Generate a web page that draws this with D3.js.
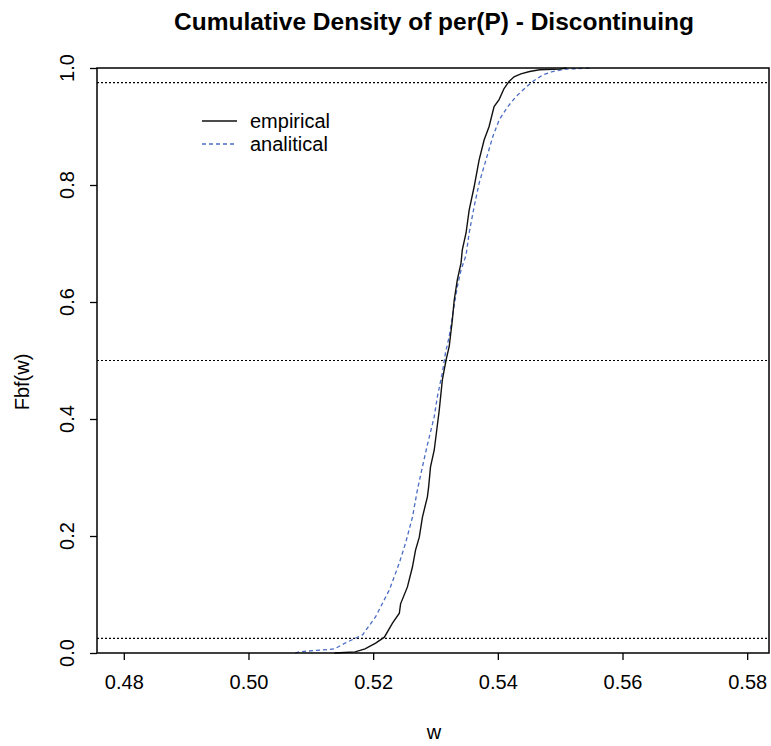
<!DOCTYPE html>
<html><head><meta charset="utf-8">
<script src="https://cdn.jsdelivr.net/npm/d3@7"></script>
<style>body{margin:0;background:#fff}svg{display:block}text{font-family:"Liberation Sans",Arial,sans-serif}</style>
</head><body><svg id="c" width="771" height="746"></svg>
<script>
const titleText = "Cumulative Density of per(P) - Discontinuing";
const xLabel = "w";
const yLabel = "Fbf(w)";
const xTicks = [0.48, 0.50, 0.52, 0.54, 0.56, 0.58];
const yTicks = [0.0, 0.2, 0.4, 0.6, 0.8, 1.0];
const refLines = [0.025, 0.5, 0.975];
const seriesNames = ["empirical", "analitical"];

const empW = [0.5138,0.5171,0.5187,0.5204,0.5218,0.5231,0.5242,0.5244,0.5255,0.5263,0.5268,0.5274,0.5279,0.5287,0.5289,0.5292,0.5298,0.5306,0.5311,0.5317,0.5322,0.5327,0.5330,0.5335,0.5341,0.5343,0.5349,0.5354,0.5362,0.5370,0.5378,0.5386,0.5394,0.5402,0.5410,0.5418,0.5426,0.5437,0.5451,0.5467,0.5499,0.5510];
const empF = [0.000,0.002,0.007,0.017,0.027,0.051,0.068,0.084,0.113,0.147,0.176,0.198,0.232,0.267,0.284,0.318,0.347,0.415,0.467,0.501,0.524,0.569,0.603,0.638,0.667,0.689,0.718,0.757,0.797,0.843,0.877,0.900,0.934,0.946,0.965,0.977,0.985,0.990,0.994,0.997,0.998,1.000];

const anaW = [0.5075,0.5081,0.5138,0.5155,0.5183,0.5204,0.5226,0.5242,0.5252,0.5263,0.5271,0.5279,0.5287,0.5298,0.5303,0.5311,0.5316,0.5322,0.5327,0.5335,0.5341,0.5349,0.5354,0.5362,0.5370,0.5381,0.5392,0.5402,0.5416,0.5429,0.5443,0.5456,0.5472,0.5488,0.5509,0.5552];
const anaF = [0.000,0.002,0.007,0.017,0.031,0.062,0.108,0.154,0.188,0.232,0.279,0.318,0.356,0.404,0.438,0.479,0.513,0.541,0.575,0.626,0.655,0.680,0.718,0.763,0.803,0.843,0.883,0.911,0.934,0.951,0.965,0.977,0.988,0.994,0.998,1.000];

const svg = d3.select("#c");
const L = 97, R = 769, T = 68, B = 653;
const x = d3.scaleLinear().domain([0.4757, 0.5835]).range([L, R]);
const y = d3.scaleLinear().domain([0, 1]).range([B, T]);
const blue = "#4a6cc4";
const fs = 20;

// reference lines
svg.append("g").selectAll("line").data(refLines).join("line")
  .attr("x1", L).attr("x2", R).attr("y1", d => y(d)).attr("y2", d => y(d))
  .attr("stroke", "#000").attr("stroke-width", 1.2).attr("stroke-dasharray", "2,2");

const line = d3.line().x(d => x(d[0])).y(d => y(d[1]));
svg.append("path").datum(anaW.map((w,i)=>[w, anaF[i]]))
  .attr("d", line).attr("fill", "none").attr("stroke", blue).attr("stroke-width", 1.3).attr("stroke-dasharray", "4,3");
svg.append("path").datum(empW.map((w,i)=>[w, empF[i]]))
  .attr("d", line).attr("fill", "none").attr("stroke", "#111").attr("stroke-width", 1.4);

// box
svg.append("rect").attr("x", L).attr("y", T).attr("width", R - L).attr("height", B - T)
  .attr("fill", "none").attr("stroke", "#000").attr("stroke-width", 1.5);

// axes
const xa = svg.append("g").attr("transform", `translate(0,${B})`)
  .call(d3.axisBottom(x).tickValues(xTicks).tickFormat(d3.format(".2f")).tickSize(7).tickPadding(15));
xa.select(".domain").remove();
xa.selectAll("line").attr("stroke-width", 1.3);
xa.selectAll("text").attr("font-size", fs).attr("font-family", "Liberation Sans, Arial, sans-serif").attr("fill", "#000");

const ya = svg.append("g").attr("transform", `translate(${L},0)`)
  .call(d3.axisLeft(y).tickValues(yTicks).tickFormat(d3.format(".1f")).tickSize(7));
ya.select(".domain").remove();
ya.selectAll("line").attr("stroke-width", 1.3);
ya.selectAll("text").remove();
svg.append("g").selectAll("text").data(yTicks).join("text")
  .attr("transform", d => `translate(74,${y(d)}) rotate(-90)`)
  .attr("text-anchor", "middle").attr("font-size", fs).text(d3.format(".1f"));

// titles
svg.append("text").attr("x", 434).attr("y", 30).attr("text-anchor", "middle")
  .attr("font-size", 24.5).attr("font-weight", "bold").text(titleText);
svg.append("text").attr("x", 434).attr("y", 739).attr("text-anchor", "middle")
  .attr("font-size", fs).text(xLabel);
svg.append("text").attr("transform", `translate(29,382) rotate(-90)`).attr("text-anchor", "middle")
  .attr("font-size", fs).text(yLabel);

// legend
const lg = svg.append("g");
const legY = [121, 144];
const legStroke = ["#111", blue];
const legDash = [null, "4,3"];
seriesNames.forEach((n, i) => {
  lg.append("line").attr("x1", 202).attr("x2", 237).attr("y1", legY[i]).attr("y2", legY[i])
    .attr("stroke", legStroke[i]).attr("stroke-width", 1.3).attr("stroke-dasharray", legDash[i]);
  lg.append("text").attr("x", 250).attr("y", legY[i] + 7).attr("font-size", fs).text(n);
});
</script></body></html>
